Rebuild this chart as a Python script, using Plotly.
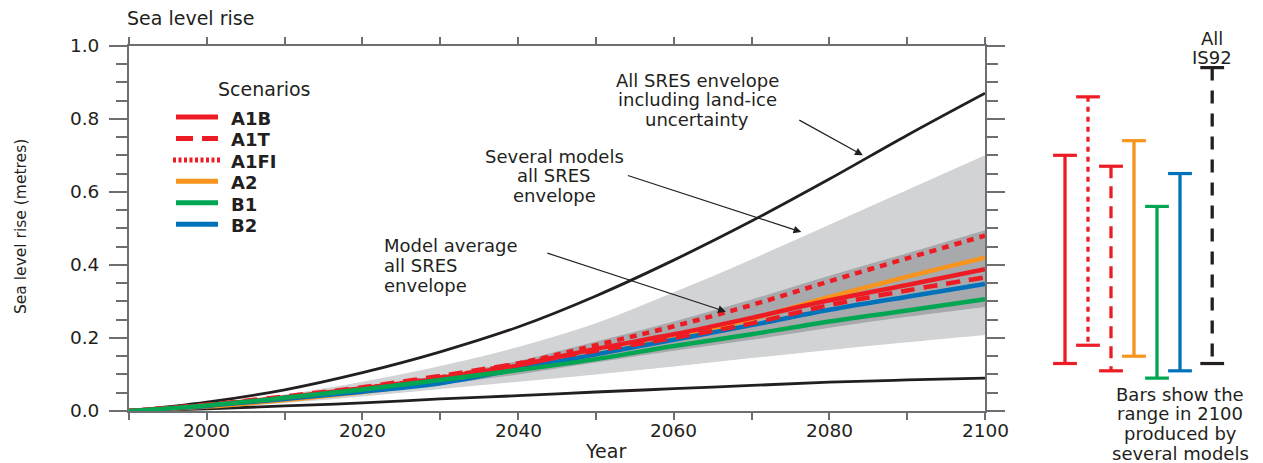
import plotly.graph_objects as go

# ---------------------------------------------------------------- data
years = [1990, 2000, 2010, 2020, 2030, 2040, 2050, 2060, 2070, 2080, 2090, 2100]

# All SRES envelope including land-ice uncertainty (black curves)
full_env_high = [0.0, 0.024, 0.058, 0.105, 0.162, 0.230, 0.315, 0.413, 0.520, 0.635, 0.755, 0.870]
full_env_low = [0.0, 0.006, 0.014, 0.022, 0.033, 0.042, 0.052, 0.061, 0.070, 0.079, 0.085, 0.090]

# Several models, all SRES envelope (light grey band)
several_high = [0.0, 0.020, 0.045, 0.080, 0.123, 0.175, 0.240, 0.325, 0.415, 0.510, 0.605, 0.700]
several_low = [0.0, 0.008, 0.022, 0.040, 0.060, 0.080, 0.100, 0.122, 0.145, 0.167, 0.188, 0.208]

# Model average, all SRES envelope (dark grey band)
average_high = [0.0, 0.017, 0.040, 0.067, 0.098, 0.137, 0.190, 0.245, 0.305, 0.370, 0.432, 0.495]
average_low = [0.0, 0.012, 0.030, 0.050, 0.072, 0.100, 0.133, 0.165, 0.195, 0.228, 0.258, 0.285]

# Scenario model averages
a1b = [0.0, 0.016, 0.037, 0.062, 0.090, 0.125, 0.170, 0.210, 0.255, 0.303, 0.345, 0.388]
a1t = [0.0, 0.017, 0.040, 0.065, 0.096, 0.130, 0.165, 0.200, 0.240, 0.290, 0.330, 0.366]
a1fi = [0.0, 0.016, 0.036, 0.062, 0.092, 0.130, 0.180, 0.232, 0.290, 0.355, 0.418, 0.480]
a2 = [0.0, 0.012, 0.030, 0.052, 0.080, 0.115, 0.155, 0.200, 0.252, 0.312, 0.368, 0.420]
b1 = [0.0, 0.015, 0.036, 0.059, 0.085, 0.112, 0.142, 0.178, 0.210, 0.245, 0.275, 0.306]
b2 = [0.0, 0.014, 0.033, 0.053, 0.076, 0.115, 0.155, 0.195, 0.235, 0.277, 0.313, 0.348]

# Range in 2100 from several models
bar_names = ["A1B", "A1FI", "A1T", "A2", "B1", "B2", "IS92"]
bar_low = [0.13, 0.18, 0.11, 0.15, 0.09, 0.11, 0.13]
bar_high = [0.70, 0.86, 0.67, 0.74, 0.56, 0.65, 0.94]

# Year axis labels
year_ticks = [2000, 2020, 2040, 2060, 2080, 2100]

# ---------------------------------------------------------------- style
W, H = 1263, 463
FONT = "DejaVu Sans"
INK = "#231f20"
AXIS = "#6d6e71"
LIGHT = "#d1d3d4"
DARK = "#a7a9ac"
RED, ORANGE, GREEN, BLUE = "#ed1c24", "#f7941d", "#00a651", "#0072bc"

scenario_style = {
    "A1B": dict(color=RED, dash="solid", legend_dash="solid", bar_dash="solid"),
    "A1T": dict(color=RED, dash="14px,9px", legend_dash="17px,9px", bar_dash="12px,8px"),
    "A1FI": dict(color=RED, dash="7px,6px", legend_dash="3px,2.5px", bar_dash="5px,5px"),
    "A2": dict(color=ORANGE, dash="solid", legend_dash="solid", bar_dash="solid"),
    "B1": dict(color=GREEN, dash="solid", legend_dash="solid", bar_dash="solid"),
    "B2": dict(color=BLUE, dash="solid", legend_dash="solid", bar_dash="solid"),
    "IS92": dict(color=INK, dash="solid", legend_dash="solid", bar_dash="13px,10px"),
}
scenario_series = {"A1B": a1b, "A1T": a1t, "A1FI": a1fi, "A2": a2, "B1": b1, "B2": b2}
legend_order = ["A1B", "A1T", "A1FI", "A2", "B1", "B2"]
draw_order = ["A2", "B2", "A1B", "A1T", "A1FI", "B1"]
bar_slots = [0, 1, 2, 3, 4, 5, 6.4]


def paper_x(px):
    return px / W


def paper_y(py):
    return 1 - py / H


fig = go.Figure()

# grey envelopes
for low, high, colour in [(several_low, several_high, LIGHT), (average_low, average_high, DARK)]:
    fig.add_trace(go.Scatter(x=years, y=low, mode="lines", line=dict(width=0, shape="spline"),
                             hoverinfo="skip", showlegend=False))
    fig.add_trace(go.Scatter(x=years, y=high, mode="lines", line=dict(width=0, shape="spline"),
                             fill="tonexty", fillcolor=colour, hoverinfo="skip", showlegend=False))

# black envelope curves
for series in (full_env_high, full_env_low):
    fig.add_trace(go.Scatter(x=years, y=series, mode="lines",
                             line=dict(color=INK, width=2.8, shape="spline"), showlegend=False))

# scenario curves
for name in draw_order:
    st = scenario_style[name]
    fig.add_trace(go.Scatter(x=years, y=scenario_series[name], mode="lines", name=name,
                             line=dict(color=st["color"], width=4.5, dash=st["dash"], shape="spline"),
                             showlegend=False))

# range bars for 2100
for name, slot, lo, hi in zip(bar_names, bar_slots, bar_low, bar_high):
    st = scenario_style[name]
    fig.add_trace(go.Scatter(x=[slot, slot], y=[hi, lo], mode="lines", xaxis="x2", yaxis="y",
                             line=dict(color=st["color"], width=3.3, dash=st["bar_dash"]),
                             cliponaxis=False, showlegend=False))
    fig.add_trace(go.Scatter(x=[slot, slot], y=[hi, lo], mode="markers", xaxis="x2", yaxis="y",
                             marker=dict(symbol="line-ew", size=17,
                                         line=dict(color=st["color"], width=3.2)),
                             cliponaxis=False, showlegend=False))

# ---------------------------------------------------------------- legend
shapes = []
annotations = []
row0, row_step = 118.5, 21.45
for i, name in enumerate(legend_order):
    st = scenario_style[name]
    yc = row0 + i * row_step
    x0, x1 = (173, 222) if name == "A1FI" else (176, 218)
    shapes.append(dict(type="line", xref="paper", yref="paper",
                       x0=paper_x(x0), x1=paper_x(x1), y0=paper_y(yc - 1.5), y1=paper_y(yc - 1.5),
                       line=dict(color=st["color"], width=5, dash=st["legend_dash"])))
    annotations.append(dict(text="<b>%s</b>" % name, xref="paper", yref="paper",
                            x=paper_x(229), y=paper_y(yc), xanchor="left", yanchor="middle",
                            showarrow=False, font=dict(family=FONT, size=18, color=INK)))


def label(text, x, y, anchor="center", size=18, angle=0):
    annotations.append(dict(text=text, xref="paper", yref="paper", x=paper_x(x), y=paper_y(y),
                            xanchor=anchor, yanchor="middle", showarrow=False, textangle=angle,
                            font=dict(family=FONT, size=size, color=INK)))


label("Scenarios", 264, 89, size=19)
label("Sea level rise", 125, 18, anchor="left", size=19)
label("Sea level rise (metres)", 21, 227, size=15.5, angle=-90)
label("Year", 605, 451, size=19)

# year labels placed on the x scale, tucked close under the frame
for yr in year_ticks:
    annotations.append(dict(text=str(yr), xref="x", yref="paper", x=yr, y=paper_y(430.5),
                            xanchor="center", yanchor="middle", showarrow=False,
                            font=dict(family=FONT, size=18.5, color=INK)))

for i, line in enumerate(["All SRES envelope", "including land-ice", "uncertainty"]):
    label(line, 697, 80 + i * 19.8)
for i, line in enumerate(["Several models", "all SRES", "envelope"]):
    label(line, 554, 156 + i * 19.8)
for i, line in enumerate(["Model average", "all SRES", "envelope"]):
    label(line, 382, 245.5 + i * 19.8, anchor="left")
for i, line in enumerate(["All", "IS92"]):
    label(line, 1212, 38 + i * 19.5)
for i, line in enumerate(["Bars show the", "range in 2100", "produced by", "several models"]):
    label(line, 1180, 394 + i * 19.8)

# pointer arrows (tip in data units, tail offset in pixels)
for tip_x, tip_y, ax, ay in [(2084.3, 0.700, -65, -36),
                             (2076.4, 0.490, -175, -57),
                             (2066.7, 0.272, -180, -59)]:
    annotations.append(dict(x=tip_x, y=tip_y, xref="x", yref="y", ax=ax, ay=ay, text="",
                            showarrow=True, arrowhead=2, arrowsize=1.3, arrowwidth=1.2,
                            arrowcolor=INK))

tick_font = dict(family=FONT, size=18.5, color=INK)
fig.update_layout(
    width=W, height=H,
    margin=dict(l=0, r=0, t=0, b=0, pad=0, autoexpand=False),
    paper_bgcolor="white", plot_bgcolor="white",
    showlegend=False,
    shapes=shapes,
    annotations=annotations,
    xaxis=dict(domain=[paper_x(129), paper_x(985)], range=[1990, 2100], anchor="y",
               automargin=False, showticklabels=False, tick0=1990, dtick=10,
               ticks="outside", ticklen=7, tickwidth=1.5, tickcolor=AXIS,
               showline=True, linecolor=AXIS, linewidth=2, mirror="ticks",
               showgrid=False, zeroline=False),
    yaxis=dict(domain=[paper_y(411), paper_y(45.7)], range=[0, 1], anchor="x",
               automargin=False, ticklabelstandoff=6,
               tick0=0, dtick=0.2, tickformat=".1f", ticks="outside", ticklen=18,
               tickwidth=1.5, tickcolor=AXIS, showline=True, linecolor=AXIS, linewidth=2,
               mirror="ticks", showgrid=False, zeroline=False, tickfont=tick_font,
               minor=dict(tick0=0, dtick=0.05, ticks="outside", ticklen=11, tickwidth=1.5,
                          tickcolor=AXIS, showgrid=False)),
    xaxis2=dict(domain=[paper_x(1042), paper_x(1249)], range=[-1, 8], anchor="y",
                automargin=False, visible=False, showgrid=False, zeroline=False),
)

fig.write_html("out.html")
